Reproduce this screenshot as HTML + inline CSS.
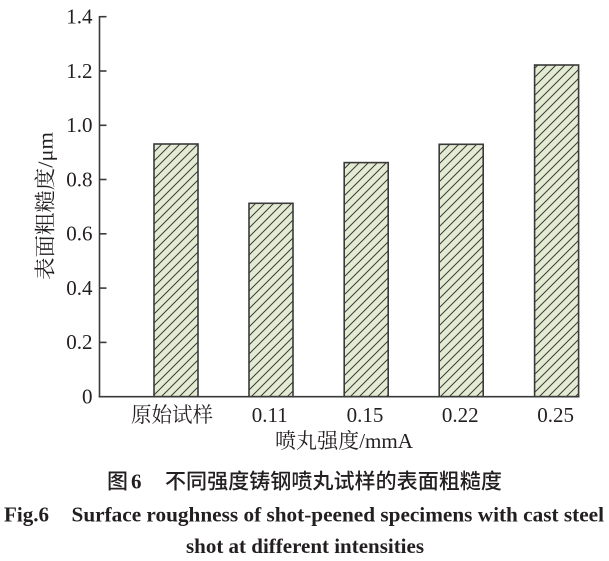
<!DOCTYPE html>
<html>
<head>
<meta charset="utf-8">
<style>
  html, body { margin: 0; padding: 0; background: #ffffff; }
  svg { display: block; }
  .tick { font-family: "Liberation Serif", "Noto Serif CJK SC", serif; font-size: 21px; fill: #231f20; }
  .cjks { font-family: "Liberation Serif", "Noto Serif CJK SC", serif; font-size: 21px; fill: #231f20; }
  .cap { font-family: "Liberation Sans", "Noto Sans CJK SC", sans-serif; font-size: 21px; font-weight: 500; fill: #231f20; }
  .capb { font-family: "Liberation Serif", "Noto Serif CJK SC", serif; font-size: 21px; font-weight: bold; fill: #231f20; }
</style>
</head>
<body>
<svg width="609" height="561" viewBox="0 0 609 561" xmlns="http://www.w3.org/2000/svg">
  <defs>
    <pattern id="hatch" patternUnits="userSpaceOnUse" width="9" height="9">
      <rect x="0" y="0" width="9" height="9" fill="#e3ecd3"/>
      <path d="M0,9 L9,0 M-2,2 L2,-2 M7,11 L11,7" stroke="#3a3a3a" stroke-width="1" fill="none"/>
    </pattern>
  </defs>
  <rect x="0" y="0" width="609" height="561" fill="#ffffff"/>

  <!-- bars -->
  <g stroke="#3a3a3a" stroke-width="1.6" fill="url(#hatch)">
    <rect x="154" y="144" width="44" height="252.7"/>
    <rect x="249" y="203.3" width="44" height="193.4"/>
    <rect x="344.2" y="162.6" width="44" height="234.1"/>
    <rect x="439.2" y="144.3" width="44" height="252.4"/>
    <rect x="534.6" y="65" width="44" height="331.7"/>
  </g>

  <!-- axes -->
  <g stroke="#3a3a3a" stroke-width="1.6" fill="none">
    <line x1="99.5" y1="16" x2="99.5" y2="397.5"/>
    <line x1="98.7" y1="396.7" x2="579.5" y2="396.7"/>
    <line x1="99.5" y1="16.7" x2="106.5" y2="16.7"/>
    <line x1="99.5" y1="71.0" x2="106.5" y2="71.0"/>
    <line x1="99.5" y1="125.3" x2="106.5" y2="125.3"/>
    <line x1="99.5" y1="179.5" x2="106.5" y2="179.5"/>
    <line x1="99.5" y1="233.8" x2="106.5" y2="233.8"/>
    <line x1="99.5" y1="288.1" x2="106.5" y2="288.1"/>
    <line x1="99.5" y1="342.4" x2="106.5" y2="342.4"/>
  </g>

  <!-- y tick labels -->
  <g class="tick" text-anchor="end">
    <text x="92.5" y="23.5">1.4</text>
    <text x="92.5" y="77.8">1.2</text>
    <text x="92.5" y="132.1">1.0</text>
    <text x="92.5" y="186.3">0.8</text>
    <text x="92.5" y="240.6">0.6</text>
    <text x="92.5" y="294.9">0.4</text>
    <text x="92.5" y="349.2">0.2</text>
    <text x="92.5" y="403.5">0</text>
  </g>

  <!-- x tick labels -->
  <text class="cjks" x="131" y="422" textLength="82" lengthAdjust="spacingAndGlyphs">原始试样</text>
  <g class="tick" text-anchor="middle">
    <text x="269.8" y="422">0.11</text>
    <text x="365" y="422">0.15</text>
    <text x="460.2" y="422">0.22</text>
    <text x="555.6" y="422">0.25</text>
  </g>

  <!-- axis titles -->
  <text class="cjks" x="275" y="448" textLength="138" lengthAdjust="spacingAndGlyphs">喷丸强度/mmA</text>
  <text class="cjks" transform="translate(52.5,206) rotate(-90)" text-anchor="middle" x="0" y="0" textLength="148" lengthAdjust="spacingAndGlyphs">表面粗糙度/μm</text>

  <!-- caption -->
  <text class="cap" x="107" y="488.5">图</text>
  <text class="capb" x="131" y="488.5">6</text>
  <text class="cap" x="165" y="488.5" textLength="337" lengthAdjust="spacingAndGlyphs">不同强度铸钢喷丸试样的表面粗糙度</text>

  <text class="capb" x="4" y="521.5" textLength="45" lengthAdjust="spacingAndGlyphs">Fig.6</text>
  <text class="capb" x="71.5" y="521.5" textLength="532.5" lengthAdjust="spacingAndGlyphs">Surface roughness of shot-peened specimens with cast steel</text>
  <text class="capb" x="186" y="553" textLength="238" lengthAdjust="spacingAndGlyphs">shot at different intensities</text>
</svg>
</body>
</html>
